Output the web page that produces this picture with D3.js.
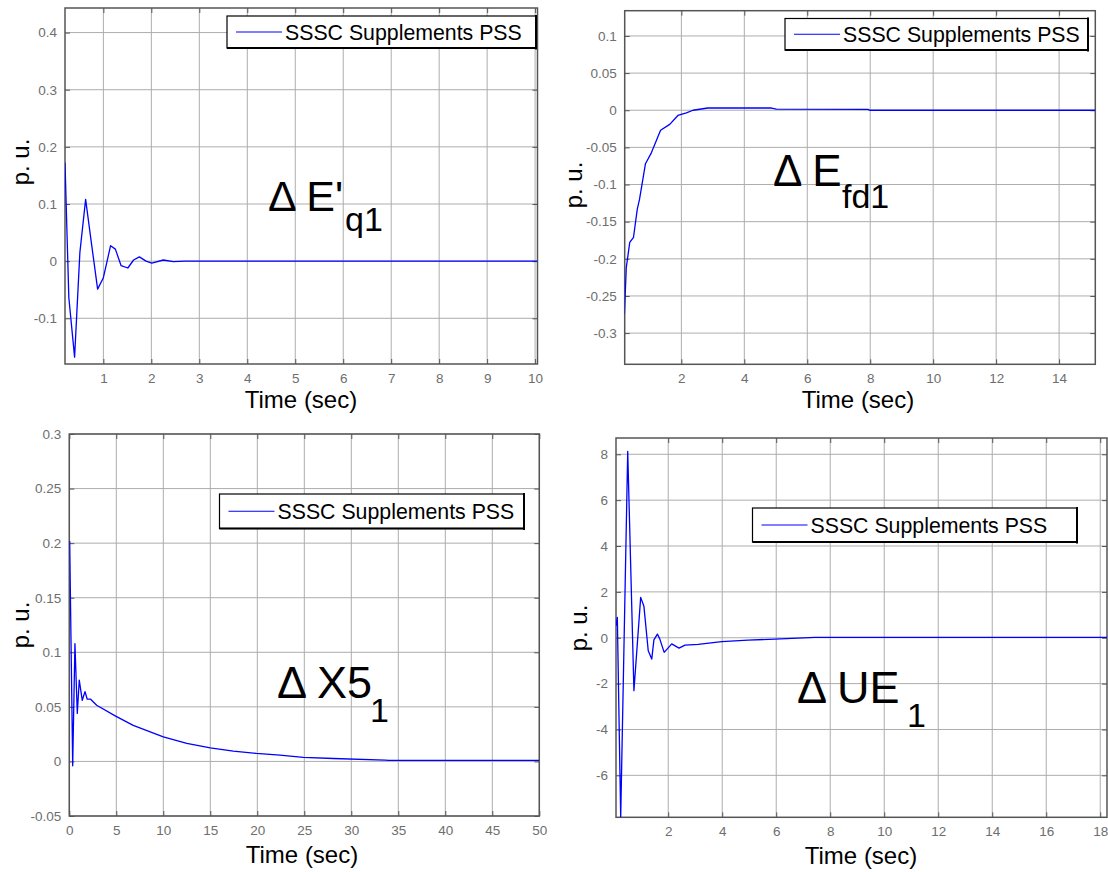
<!DOCTYPE html>
<html>
<head>
<meta charset="utf-8">
<script src="https://cdn.jsdelivr.net/npm/d3@7"></script>
<style>
  html, body { margin: 0; padding: 0; background: #fff; }
  svg { display: block; font-family: Arial, "Liberation Sans", sans-serif; }
</style>
</head>
<body>
<svg id="fig" width="1108" height="872"></svg>
<script>
// ΔE'q1 response
const eqTime = [0.2, 0.28, 0.4, 0.51, 0.63, 0.75, 0.88, 1.0, 1.15, 1.25, 1.37, 1.51, 1.63, 1.75, 1.89, 2.01, 2.25, 2.46, 2.7, 10.05];
const eqVal  = [0.172, -0.064, -0.168, 0.015, 0.108, 0.032, -0.049, -0.029, 0.027, 0.021, -0.008, -0.012, 0.002, 0.0075, 0, -0.0035, 0.002, -0.001, 0, 0];

// ΔEfd1 response
const efdTime = [0.19, 0.25, 0.36, 0.48, 0.6, 0.67, 0.86, 1.05, 1.34, 1.63, 1.89, 2.16, 2.37, 2.84, 4.86, 5.02, 7.93, 7.98, 15.15];
const efdVal  = [-0.275, -0.212, -0.178, -0.171, -0.133, -0.120, -0.072, -0.057, -0.027, -0.019, -0.007, -0.0035, 0, 0.003, 0.003, 0.0015, 0.0012, 0, 0];

// ΔX5_1 response
const x5Time = [0.04, 0.36, 0.6, 0.85, 1.06, 1.38, 1.67, 1.91, 2.27, 2.91, 4.93, 6.8, 10, 12.5, 15, 17.45, 19.9, 22.4, 24.9, 28.1, 33.6, 34, 50];
const x5Val  = [0.202, -0.004, 0.108, 0.044, 0.0745, 0.056, 0.064, 0.057, 0.057, 0.0515, 0.0415, 0.033, 0.0225, 0.0165, 0.0125, 0.0094, 0.0073, 0.0058, 0.0037, 0.0027, 0.0012, 0.0009, 0.0009];

// ΔUE_1 response
const ueTime = [0.066, 0.115, 0.24, 0.5, 0.73, 0.98, 1.1, 1.26, 1.39, 1.47, 1.6, 1.69, 1.85, 2.13, 2.4, 2.62, 3.11, 3.98, 4.96, 5.95, 7.43, 18.25];
const ueVal  = [0.52, 0.89, -7.83, 8.13, -2.31, 1.76, 1.37, -0.57, -0.93, -0.09, 0.16, -0.06, -0.64, -0.27, -0.45, -0.32, -0.29, -0.17, -0.10, -0.06, 0.02, 0.02];

// tick values
const eqXTicks  = [1, 2, 3, 4, 5, 6, 7, 8, 9, 10];
const eqYTicks  = [-0.1, 0, 0.1, 0.2, 0.3, 0.4];
const efdXTicks = [2, 4, 6, 8, 10, 12, 14];
const efdYTicks = [-0.3, -0.25, -0.2, -0.15, -0.1, -0.05, 0, 0.05, 0.1];
const x5XTicks  = [0, 5, 10, 15, 20, 25, 30, 35, 40, 45, 50];
const x5YTicks  = [-0.05, 0, 0.05, 0.1, 0.15, 0.2, 0.25, 0.3];
const ueXTicks  = [2, 4, 6, 8, 10, 12, 14, 16, 18];
const ueYTicks  = [-6, -4, -2, 0, 2, 4, 6, 8];

const legendLabel = "SSSC Supplements PSS";
const xLabel = "Time (sec)";
const yLabel = "p. u.";

const fmt = d => String(+d.toFixed(3));

const panels = [
  { box: [65, 8, 537.5, 364], xDom: [0.2, 10.05], yDom: [-0.18, 0.443],
    xTicks: eqXTicks, yTicks: eqYTicks, t: eqTime, v: eqVal,
    legend: [227, 16, 536, 48],
    name: [{ s: "\u0394 E'", x: 268, y: 211, size: 43 }, { s: "q1", x: 345, y: 231, size: 34 }],
    ylab: [21, 162], xlab: [301, 408] },
  { box: [624.7, 10.7, 1095.3, 364.3], xDom: [0.2, 15.15], yDom: [-0.342, 0.134],
    xTicks: efdXTicks, yTicks: efdYTicks, t: efdTime, v: efdVal,
    legend: [785, 18.5, 1088, 50],
    name: [{ s: "\u0394 E", x: 773, y: 186, size: 44 }, { s: "fd1", x: 842, y: 208, size: 34 }],
    ylab: [574, 185], xlab: [858, 408] },
  { box: [69.3, 434, 539.3, 816], xDom: [0, 50], yDom: [-0.05, 0.3],
    xTicks: x5XTicks, yTicks: x5YTicks, t: x5Time, v: x5Val,
    legend: [219.5, 494, 524, 528.5],
    name: [{ s: "\u0394 X5", x: 277, y: 698, size: 45 }, { s: "1", x: 370, y: 722, size: 34 }],
    ylab: [21, 625], xlab: [302, 863] },
  { box: [616, 438, 1107, 817.3], xDom: [0.066, 18.25], yDom: [-7.83, 8.71],
    xTicks: ueXTicks, yTicks: ueYTicks, t: ueTime, v: ueVal,
    legend: [752.5, 508, 1077, 542],
    name: [{ s: "\u0394 UE", x: 797, y: 703, size: 45 }, { s: "1", x: 907, y: 727, size: 34 }],
    ylab: [579, 628], xlab: [861, 864] }
];

const svg = d3.select("#fig");
svg.append("rect").attr("width", 1108).attr("height", 872).attr("fill", "#fff");

panels.forEach((p, i) => {
  const [x0, y0, x1, y1] = p.box;
  const x = d3.scaleLinear().domain(p.xDom).range([x0, x1]);
  const y = d3.scaleLinear().domain(p.yDom).range([y1, y0]);
  const g = svg.append("g");

  // grid
  g.append("g").selectAll("line").data(p.xTicks).join("line")
    .attr("x1", d => x(d)).attr("x2", d => x(d)).attr("y1", y0).attr("y2", y1)
    .attr("stroke", "#adadad").attr("stroke-width", 1);
  g.append("g").selectAll("line").data(p.yTicks).join("line")
    .attr("y1", d => y(d)).attr("y2", d => y(d)).attr("x1", x0).attr("x2", x1)
    .attr("stroke", "#adadad").attr("stroke-width", 1);

  // axes with inward ticks on all four sides
  const tl = 5;
  const axB = d3.axisBottom(x).tickValues(p.xTicks).tickFormat(fmt).tickSizeInner(-tl).tickSizeOuter(0).tickPadding(9);
  const axT = d3.axisTop(x).tickValues(p.xTicks).tickFormat("").tickSizeInner(-tl).tickSizeOuter(0);
  const axL = d3.axisLeft(y).tickValues(p.yTicks).tickFormat(fmt).tickSizeInner(-tl).tickSizeOuter(0).tickPadding(8);
  const axR = d3.axisRight(y).tickValues(p.yTicks).tickFormat("").tickSizeInner(-tl).tickSizeOuter(0);
  const styleAxis = sel => {
    sel.select(".domain").remove();
    sel.selectAll(".tick line").attr("stroke", "#555").attr("stroke-width", 1);
    sel.selectAll(".tick text").attr("fill", "#6e6e6e").attr("font-size", 13.5)
      .attr("font-family", "Arial, 'Liberation Sans', sans-serif");
  };
  g.append("g").attr("transform", `translate(0,${y1})`).call(axB).call(styleAxis);
  g.append("g").attr("transform", `translate(0,${y0})`).call(axT).call(styleAxis);
  g.append("g").attr("transform", `translate(${x0},0)`).call(axL).call(styleAxis);
  g.append("g").attr("transform", `translate(${x1},0)`).call(axR).call(styleAxis);

  // plot box
  g.append("rect").attr("x", x0).attr("y", y0).attr("width", x1 - x0).attr("height", y1 - y0)
    .attr("fill", "none").attr("stroke", "#555").attr("stroke-width", 1.5);

  // response curve
  const clipId = "clip" + i;
  svg.append("clipPath").attr("id", clipId).append("rect")
    .attr("x", x0).attr("y", y0).attr("width", x1 - x0).attr("height", y1 - y0);
  const pts = p.t.map((t, k) => [t, p.v[k]]);
  g.append("path").datum(pts).attr("clip-path", `url(#${clipId})`)
    .attr("d", d3.line().x(d => x(d[0])).y(d => y(d[1])))
    .attr("fill", "none").attr("stroke", "#0000ff").attr("stroke-width", 1.3)
    .attr("stroke-linejoin", "round");

  // legend
  const [lx0, ly0, lx1, ly1] = p.legend;
  const lg = g.append("g");
  lg.append("rect").attr("x", lx0).attr("y", ly0).attr("width", lx1 - lx0).attr("height", ly1 - ly0)
    .attr("fill", "#fff").attr("stroke", "#000").attr("stroke-width", 1.2);
  lg.append("line").attr("x1", lx1).attr("x2", lx1).attr("y1", ly0 - 1).attr("y2", ly1 + 1.5)
    .attr("stroke", "#000").attr("stroke-width", 2);
  lg.append("line").attr("x1", lx0).attr("x2", lx1 + 1).attr("y1", ly1).attr("y2", ly1)
    .attr("stroke", "#000").attr("stroke-width", 2);
  const lm = (ly0 + ly1) / 2;
  lg.append("line").attr("x1", lx0 + 9).attr("x2", lx0 + 55).attr("y1", lm).attr("y2", lm)
    .attr("stroke", "#0000ff").attr("stroke-width", 1);
  lg.append("text").attr("x", lx0 + 58).attr("y", lm + 7.6).attr("font-size", 21.3)
    .attr("fill", "#000").text(legendLabel);

  // variable name annotation
  const nt = g.append("text").attr("fill", "#000");
  p.name.forEach(n => {
    nt.append("tspan").attr("x", n.x).attr("y", n.y).attr("font-size", n.size).text(n.s);
  });

  // axis titles
  g.append("text").attr("transform", `translate(${p.ylab[0]},${p.ylab[1]}) rotate(-90)`)
    .attr("text-anchor", "middle").attr("dy", "0.35em").attr("font-size", 24).attr("fill", "#000").text(yLabel);
  g.append("text").attr("x", p.xlab[0]).attr("y", p.xlab[1]).attr("text-anchor", "middle")
    .attr("font-size", 24).attr("fill", "#000").text(xLabel);
});
</script>
</body>
</html>
